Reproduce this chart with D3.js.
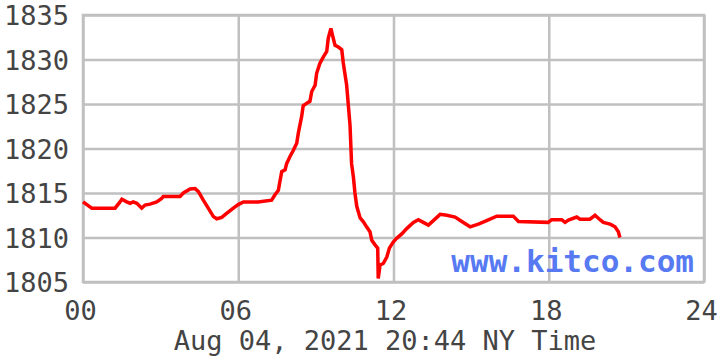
<!DOCTYPE html>
<html>
<head>
<meta charset="utf-8">
<script src="https://cdn.jsdelivr.net/npm/d3@7"></script>
<style>
  body { margin: 0; background: #fff; }
  svg { display: block; }
</style>
</head>
<body>
<svg></svg>
<script>
const width = 720;
const height = 357;

// hours since midnight (NY time) and gold price
const hours = [0.0, 0.34, 1.24, 1.43, 1.50, 1.69, 1.82, 1.94, 2.08, 2.27, 2.40, 2.59, 2.85, 3.04, 3.10, 3.75,
    3.88, 4.14, 4.33, 4.46, 4.65, 4.84, 5.04, 5.17, 5.36, 5.55, 5.81, 6.00, 6.20, 6.77, 7.29, 7.42,
    7.55, 7.61, 7.68, 7.81, 7.87, 8.00, 8.13, 8.26, 8.32, 8.45, 8.51, 8.65, 8.77, 8.84, 8.97, 9.03,
    9.16, 9.29, 9.42, 9.48, 9.58, 9.67, 9.74, 9.87, 10.00, 10.06, 10.19, 10.32, 10.38, 10.45, 10.51, 10.58,
    10.71, 10.83, 10.96, 11.09, 11.16, 11.28, 11.39, 11.41, 11.48, 11.61, 11.74, 11.84, 11.99, 12.12, 12.32, 12.51,
    12.77, 12.96, 13.15, 13.35, 13.54, 13.80, 14.06, 14.38, 14.64, 14.96, 15.28, 15.60, 15.99, 16.63, 16.83, 17.98,
    18.11, 18.50, 18.63, 18.76, 19.08, 19.21, 19.59, 19.79, 19.98, 20.11, 20.37, 20.56, 20.69, 20.75];
const prices = [1814.0, 1813.3, 1813.3, 1814.0, 1814.3, 1814.0, 1813.85, 1814.0, 1813.85, 1813.3, 1813.65, 1813.75, 1814.0, 1814.4, 1814.6, 1814.6,
    1815.0, 1815.45, 1815.5, 1815.15, 1814.2, 1813.3, 1812.35, 1812.1, 1812.25, 1812.7, 1813.3, 1813.7, 1814.0, 1814.0, 1814.2, 1814.8,
    1815.3, 1816.3, 1817.4, 1817.6, 1818.3, 1819.1, 1819.8, 1820.6, 1821.7, 1823.6, 1824.8, 1825.1, 1825.3, 1826.4, 1827.1, 1828.45,
    1829.6, 1830.3, 1830.9, 1832.4, 1833.5, 1832.4, 1831.6, 1831.4, 1831.1, 1829.6, 1827.1, 1822.6, 1818.3, 1816.8, 1815.0, 1813.5,
    1812.2, 1811.8, 1811.2, 1810.65, 1809.7, 1809.2, 1808.8, 1805.4, 1806.9, 1807.1, 1807.8, 1808.8, 1809.5, 1809.9, 1810.4, 1811.0,
    1811.7, 1812.0, 1811.7, 1811.4, 1811.9, 1812.6, 1812.5, 1812.3, 1811.8, 1811.2, 1811.5, 1811.9, 1812.4, 1812.4, 1811.8, 1811.7,
    1812.0, 1812.0, 1811.7, 1811.95, 1812.3, 1812.05, 1812.05, 1812.5, 1812.0, 1811.7, 1811.5, 1811.2, 1810.65, 1810.0];

const xTicks = [0, 6, 12, 18, 24];
const yTicks = [1805, 1810, 1815, 1820, 1825, 1830, 1835];
const caption = "Aug 04, 2021 20:44 NY Time";
const watermark = "www.kitco.com";

const data = hours.map((h, i) => ({ h: h, p: prices[i] }));

const margin = { left: 83, right: 16, top: 15, bottom: 75 };
const x = d3.scaleLinear().domain([0, 24]).range([margin.left, width - margin.right]);
const y = d3.scaleLinear().domain([1805, 1835]).range([height - margin.bottom, margin.top]);

const svg = d3.select("svg")
    .attr("width", width)
    .attr("height", height);

svg.append("rect")
    .attr("width", width)
    .attr("height", height)
    .attr("fill", "#fff");

const font = "'DejaVu Sans Mono', monospace";
const plotH = y(1805) - y(1835);
const plotW = x(24) - x(0);

// y grid + labels
const yAxis = svg.append("g")
    .attr("transform", `translate(${margin.left},0)`)
    .call(d3.axisLeft(y).tickValues(yTicks).tickSize(-plotW).tickPadding(14).tickFormat(d3.format("d")));

// x grid + labels
const xAxis = svg.append("g")
    .attr("transform", `translate(0,${y(1805)})`)
    .call(d3.axisBottom(x).tickValues(xTicks).tickSize(-plotH).tickFormat(d3.format("02d")));

[xAxis, yAxis].forEach(g => {
    g.select(".domain").remove();
    g.selectAll(".tick line").attr("stroke", "#c0c0c0").attr("stroke-width", 2.5);
    g.selectAll(".tick text")
        .attr("fill", "#444")
        .style("font-family", font)
        .style("font-size", "27px");
});

yAxis.selectAll(".tick text").attr("dy", "0.36em");
xAxis.selectAll(".tick text").attr("y", 38).attr("dy", 0).attr("dx", -3);

// frame
svg.append("rect")
    .attr("x", x(0))
    .attr("y", y(1835))
    .attr("width", plotW)
    .attr("height", plotH)
    .attr("fill", "none")
    .attr("stroke", "#c0c0c0")
    .attr("stroke-width", 2.5);

svg.append("text")
    .attr("x", 694)
    .attr("y", 272)
    .attr("text-anchor", "end")
    .attr("fill", "#5779f2")
    .style("font-family", font)
    .style("font-weight", "bold")
    .style("font-size", "31px")
    .text(watermark);

const line = d3.line()
    .x(d => x(d.h))
    .y(d => y(d.p));

svg.append("path")
    .datum(data)
    .attr("fill", "none")
    .attr("stroke", "#ff0000")
    .attr("stroke-width", 3.5)
    .attr("stroke-linejoin", "miter")
    .attr("d", line);

svg.append("text")
    .attr("x", 385)
    .attr("y", 350)
    .attr("text-anchor", "middle")
    .attr("fill", "#444")
    .style("font-family", font)
    .style("font-size", "27px")
    .text(caption);
</script>
</body>
</html>
